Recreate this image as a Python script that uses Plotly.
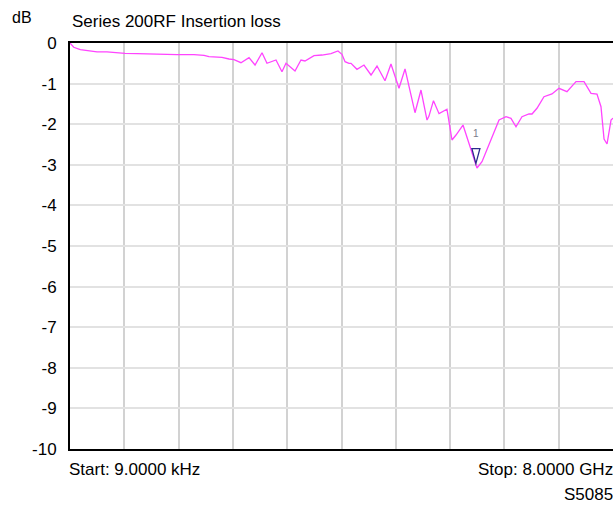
import plotly.graph_objects as go

# Frequency (GHz) and insertion loss (dB)
freq_ghz = [0.0, 0.055, 0.152, 0.250, 0.398, 0.545, 0.692, 0.810, 0.987, 1.134,
            1.282, 1.385, 1.576, 1.827, 1.974, 2.048, 2.195, 2.239, 2.343, 2.416,
            2.519, 2.637, 2.726, 2.829, 2.902, 3.035, 3.123, 3.182, 3.315, 3.403,
            3.462, 3.595, 3.713, 3.845, 3.948, 4.007, 4.052, 4.110, 4.140, 4.228,
            4.331, 4.435, 4.523, 4.641, 4.729, 4.847, 4.936, 5.083, 5.171, 5.260,
            5.289, 5.355, 5.437, 5.554, 5.628, 5.687, 5.790, 5.849, 5.996, 6.070,
            6.203, 6.321, 6.424, 6.497, 6.571, 6.659, 6.762, 6.807, 6.880, 6.983,
            7.101, 7.204, 7.322, 7.455, 7.573, 7.676, 7.764, 7.823, 7.868, 7.912,
            7.971, 8.0]
loss_db = [0.0, -0.106, -0.165, -0.19, -0.22, -0.22, -0.246, -0.254, -0.264, -0.271,
           -0.271, -0.288, -0.288, -0.288, -0.303, -0.337, -0.337, -0.352, -0.394, -0.411,
           -0.485, -0.362, -0.542, -0.239, -0.50, -0.419, -0.707, -0.50, -0.69, -0.419,
           -0.443, -0.313, -0.296, -0.264, -0.197, -0.278, -0.461, -0.50, -0.50, -0.648,
           -0.542, -0.788, -0.567, -0.929, -0.517, -1.116, -0.640, -1.717, -1.158, -1.897,
           -1.80, -1.421, -1.74, -1.633, -2.389, -2.266, -2.020, -2.308, -3.079, -2.924,
           -2.389, -1.897, -1.815, -1.855, -2.062, -1.815, -1.749, -1.749, -1.608, -1.323,
           -1.256, -1.116, -1.20, -0.953, -0.953, -1.239, -1.256, -1.569, -2.365, -2.488,
           -1.897, -1.85]

marker_freq = 5.98
marker_db = -2.97
marker_label = "1"

y_ticks = [0, -1, -2, -3, -4, -5, -6, -7, -8, -9, -10]

fig = go.Figure()
fig.add_trace(go.Scatter(x=freq_ghz, y=loss_db, mode="lines",
                         line=dict(color="#ff44ff", width=1.3),
                         hoverinfo="skip", showlegend=False))

fig.add_shape(type="path", xref="x", yref="y", xsizemode="pixel", ysizemode="pixel",
              xanchor=marker_freq, yanchor=marker_db,
              path="M -4,15 L 4,15 L 0,0 Z",
              line=dict(color="#2b2b8c", width=1.3), fillcolor="rgba(0,0,0,0)")

fig.add_annotation(x=marker_freq, y=marker_db, text=marker_label, showarrow=False,
                   yshift=30, font=dict(family="Liberation Sans, Arial", size=10, color="#7a7a8a"))

font_main = "Liberation Sans, Arial, sans-serif"
fig.add_annotation(xref="paper", yref="paper", x=0, y=1, xshift=0, yshift=10,
                   xanchor="left", yanchor="bottom", showarrow=False,
                   text="Series 200RF Insertion loss",
                   font=dict(family=font_main, size=17, color="#000"))
fig.add_annotation(xref="paper", yref="paper", x=0, y=1, xshift=-60, yshift=15,
                   xanchor="left", yanchor="bottom", showarrow=False,
                   text="dB", font=dict(family=font_main, size=16, color="#000"))
fig.add_annotation(xref="paper", yref="paper", x=0, y=0, xshift=-3, yshift=-9,
                   xanchor="left", yanchor="top", showarrow=False,
                   text="Start: 9.0000 kHz", font=dict(family=font_main, size=17, color="#000"))
fig.add_annotation(xref="paper", yref="paper", x=1, y=0, xshift=2, yshift=-9,
                   xanchor="right", yanchor="top", showarrow=False,
                   text="Stop: 8.0000 GHz", font=dict(family=font_main, size=17, color="#000"))
fig.add_annotation(xref="paper", yref="paper", x=1, y=0, xshift=2, yshift=-34,
                   xanchor="right", yanchor="top", showarrow=False,
                   text="S5085", font=dict(family=font_main, size=17, color="#000"))

fig.update_layout(
    width=613, height=506,
    margin=dict(l=70, r=0, t=43, b=57),
    paper_bgcolor="white", plot_bgcolor="white",
    xaxis=dict(range=[0, 8], dtick=0.8, tick0=0, showticklabels=False,
               showgrid=True, gridcolor="#d2d2d2", gridwidth=1.5,
               showline=True, linecolor="black", linewidth=2, mirror=True,
               zeroline=False, fixedrange=True),
    yaxis=dict(range=[-10, 0], tickvals=y_ticks, ticktext=[str(v) for v in y_ticks],
               showgrid=True, gridcolor="#e2e2e2", gridwidth=2,
               showline=True, linecolor="black", linewidth=2, mirror=False,
               zeroline=False, ticks="", ticklabelstandoff=8,
               tickfont=dict(family=font_main, size=17, color="#000"), fixedrange=True),
)

fig.write_html("out.html", config={"displayModeBar": False},
               post_script="document.body.style.margin='0';document.body.style.overflow='hidden';")
